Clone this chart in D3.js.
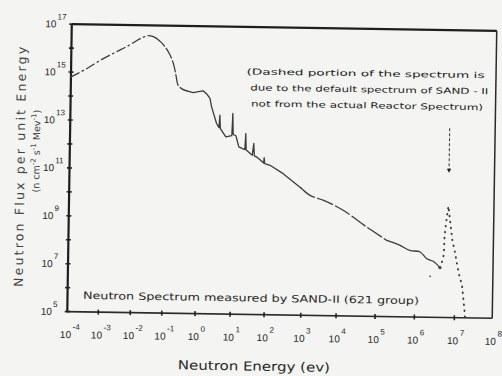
<!DOCTYPE html>
<html>
<head>
<meta charset="utf-8">
<script src="https://cdnjs.cloudflare.com/ajax/libs/d3/7.8.5/d3.min.js"></script>
<style>
  html, body { margin: 0; padding: 0; background: #f4f4f2; }
  svg { display: block; }
  text { fill: #262626; }
</style>
</head>
<body>
<svg id="chart" width="502" height="376"></svg>
<script>
// decades on the axes (exponents of ten)
var xTickExp = [-4, -3, -2, -1, 0, 1, 2, 3, 4, 5, 6, 7, 8];
var yLabelExp = [17, 15, 13, 11, 9, 7, 5];
var yTickExp = [5, 6, 7, 8, 9, 10, 11, 12, 13, 14, 15, 16, 17];

// spectrum, [log10 E(eV), log10 flux]
var thermalPart = [[-4, 14.8], [-3.5, 15.15], [-3.05, 15.52], [-2.6, 15.85], [-2.24, 16.1],
  [-1.9, 16.38], [-1.7, 16.52], [-1.56, 16.57], [-1.45, 16.55], [-1.3, 16.46]];
var dropPart = [[-1.3, 16.46], [-1.15, 16.3], [-1.03, 16.12], [-0.9, 15.85], [-0.77, 15.43],
  [-0.68, 14.9], [-0.62, 14.53], [-0.5, 14.37], [-0.33, 14.28]];
var resonancePart = [[-0.33, 14.28], [-0.15, 14.22], [0, 14.27], [0.14, 14.3], [0.25, 14.15],
  [0.33, 13.99], [0.38, 13.64], [0.53, 12.95], [0.6, 12.78], [0.62, 13.3], [0.64, 12.74],
  [0.8, 12.4], [0.97, 12.45], [0.99, 13.38], [1.01, 12.5], [1.09, 12.45], [1.18, 11.99],
  [1.29, 11.92], [1.36, 11.88], [1.38, 12.55], [1.4, 11.86], [1.58, 11.65], [1.62, 12.14],
  [1.64, 11.62], [1.73, 11.56], [1.92, 11.33], [1.93, 11.56], [1.95, 11.31], [2.1, 11.24],
  [2.46, 10.9], [2.96, 10.3]];
var epithermalPart = [[2.96, 10.3], [3.21, 10.01], [3.6, 9.81], [4.14, 9.41], [4.75, 8.73],
  [5.27, 8.18]];
var fastPart = [[5.27, 8.18], [5.61, 7.98], [5.86, 7.78], [6.12, 7.72], [6.29, 7.44],
  [6.45, 7.34], [6.62, 7.08]];
var defaultPart = [[6.62, 7.08], [6.7, 7.46], [6.72, 7.9], [6.72, 8.29], [6.75, 8.85],
  [6.79, 9.41], [6.81, 9.65], [6.85, 9.13], [6.92, 8.23], [6.99, 7.74], [7.09, 6.91],
  [7.19, 6.35], [7.26, 5.38], [7.28, 5.05]];
var strayDot = [[6.38, 6.71]];
var arrowAt = [6.81, 12.9, 11.05];

var noteLines = ["(Dashed portion of the spectrum is",
  "due to the default spectrum of SAND - II",
  "not from the actual Reactor Spectrum)"];

var svg = d3.select("#chart");
// the scan is slightly tilted
var g = svg.append("g").attr("transform", "rotate(0.9,283,171)");

// decade spacing on the scan is not even, so the x scale is piecewise
var x = d3.scaleLinear()
  .domain(xTickExp)
  .range([69.5, 100.5, 132.5, 164, 197.3, 232.3, 266.3, 303, 338.3, 377.3, 416.6, 456.6, 494.5]);
var y = d3.scaleLinear().domain([5, 17]).range([315, 27.5]);

var x0 = x(-4), x1 = x(8), yT = y(17), yB = y(5);

// frame
g.append("line").attr("x1", x0).attr("x2", x1).attr("y1", yT).attr("y2", yT)
  .attr("stroke", "#1e1e1e").attr("stroke-width", 2.2);
g.append("line").attr("x1", x0).attr("x2", x0).attr("y1", yT).attr("y2", yB)
  .attr("stroke", "#1e1e1e").attr("stroke-width", 2.2);
g.append("line").attr("x1", x1).attr("x2", x1).attr("y1", yT).attr("y2", yB)
  .attr("stroke", "#2a2a2a").attr("stroke-width", 1.5);
g.append("line").attr("x1", x0).attr("x2", x1).attr("y1", yB).attr("y2", yB)
  .attr("stroke", "#2a2a2a").attr("stroke-width", 1.6);

// ticks
g.selectAll(".yt").data(yTickExp).enter().append("line")
  .attr("x1", x0 - 2.5).attr("x2", x0 + 2.5)
  .attr("y1", function(d) { return y(d); }).attr("y2", function(d) { return y(d); })
  .attr("stroke", "#222").attr("stroke-width", 1.6);
g.selectAll(".xt").data(xTickExp.slice(1, 12)).enter().append("line")
  .attr("x1", function(d) { return x(d); }).attr("x2", function(d) { return x(d); })
  .attr("y1", yB - 2.5).attr("y2", yB + 2.5)
  .attr("stroke", "#222").attr("stroke-width", 1.6);

// tick labels
var yl = g.selectAll(".yl").data(yLabelExp).enter().append("text")
  .attr("font-family", "Liberation Sans, Arial, sans-serif")
  .attr("x", 43).attr("y", function(d) { return y(d) + 3.5; });
yl.append("tspan").attr("font-size", 10).text("10");
yl.append("tspan").attr("font-size", 8).attr("dx", 1).attr("dy", -8)
  .text(function(d) { return d; });

var xl = g.selectAll(".xl").data(xTickExp).enter().append("text")
  .attr("font-family", "Liberation Sans, Arial, sans-serif")
  .attr("x", function(d) { return x(d) - 7; }).attr("y", 341.5);
xl.append("tspan").attr("font-size", 10).text("10");
xl.append("tspan").attr("font-size", 8).attr("dx", 1.5).attr("dy", -8.5)
  .text(function(d) { return d; });

// spectrum
var line = d3.line().x(function(d) { return x(d[0]); }).y(function(d) { return y(d[1]); });
var smooth = d3.line().x(function(d) { return x(d[0]); }).y(function(d) { return y(d[1]); })
  .curve(d3.curveCatmullRom);

function draw(data, gen, dash, width) {
  g.append("path").attr("d", gen(data))
    .attr("fill", "none").attr("stroke", "#3c3c3c")
    .attr("stroke-width", width || 1.3)
    .attr("stroke-linecap", "round").attr("stroke-linejoin", "round")
    .attr("stroke-dasharray", dash);
}
draw(thermalPart, smooth, "9,3.5,1.5,3.5");
draw(dropPart, smooth, "11,3");
draw(resonancePart, line, null);
draw(epithermalPart, smooth, "16,3.5");
draw(fastPart, smooth, null);
draw(defaultPart, line, "0.5,5.5", 1.9);

g.selectAll(".stray").data(strayDot.concat([fastPart[fastPart.length - 1]])).enter()
  .append("circle")
  .attr("cx", function(d) { return x(d[0]); }).attr("cy", function(d) { return y(d[1]); })
  .attr("r", function(d, i) { return i === 0 ? 0.9 : 1.7; })
  .attr("fill", "#444");

// arrow to the default spectrum peak
g.append("line")
  .attr("x1", x(arrowAt[0])).attr("x2", x(arrowAt[0]))
  .attr("y1", y(arrowAt[1])).attr("y2", y(arrowAt[2]) - 3)
  .attr("stroke", "#333").attr("stroke-width", 1).attr("stroke-dasharray", "3,2");
g.append("path")
  .attr("d", "M" + (x(arrowAt[0]) - 2.2) + "," + (y(arrowAt[2]) - 4) +
    "L" + (x(arrowAt[0]) + 2.2) + "," + (y(arrowAt[2]) - 4) +
    "L" + x(arrowAt[0]) + "," + y(arrowAt[2]) + "Z")
  .attr("fill", "#222");

// note
g.selectAll(".note").data(noteLines).enter().append("text")
  .attr("font-family", "DejaVu Sans, sans-serif").attr("font-size", 8.2)
  .attr("x", function(d, i) { return [245, 249, 250][i]; })
  .attr("y", function(d, i) { return 75 + i * 16; })
  .attr("textLength", function(d, i) { return [238, 238, 232][i]; })
  .attr("lengthAdjust", "spacingAndGlyphs")
  .style("fill", "#1a1a1a")
  .text(function(d) { return d; });

g.append("text").attr("font-family", "DejaVu Sans, sans-serif").attr("font-size", 10)
  .attr("x", 85).attr("y", 302).attr("textLength", 336).attr("lengthAdjust", "spacingAndGlyphs")
  .text("Neutron Spectrum measured by SAND-II (621 group)");

// axis titles
g.append("text").attr("font-family", "DejaVu Sans, sans-serif").attr("font-size", 12.5)
  .attr("x", 257).attr("y", 371).attr("text-anchor", "middle")
  .attr("textLength", 152).attr("lengthAdjust", "spacingAndGlyphs")
  .text("Neutron Energy (ev)");

g.append("text").attr("font-family", "DejaVu Sans, sans-serif").attr("font-size", 12.5)
  .attr("transform", "translate(24.5,171) rotate(-90)").attr("text-anchor", "middle")
  .attr("textLength", 240).attr("lengthAdjust", "spacing")
  .style("fill", "#444")
  .text("Neutron Flux per unit Energy");

var unit = g.append("text").attr("font-family", "DejaVu Sans, sans-serif").attr("font-size", 9.5)
  .attr("transform", "translate(39.5,155) rotate(-90)").attr("text-anchor", "middle")
  .style("fill", "#444");
unit.append("tspan").text("(n cm");
unit.append("tspan").attr("font-size", 7).attr("dy", -4).text("-2");
unit.append("tspan").attr("dy", 4).text(" s");
unit.append("tspan").attr("font-size", 7).attr("dy", -4).text("-1");
unit.append("tspan").attr("dy", 4).text(" Mev");
unit.append("tspan").attr("font-size", 7).attr("dy", -4).text("-1");
unit.append("tspan").attr("dy", 4).text(")");
</script>
</body>
</html>
